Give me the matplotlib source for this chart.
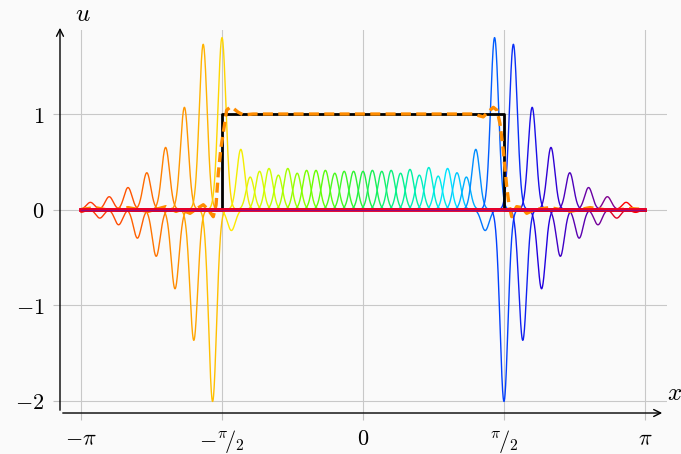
import numpy as np
import matplotlib.pyplot as plt
from matplotlib.colors import LinearSegmentedColormap

plt.rcParams.update({
    "mathtext.fontset": "cm",
    "font.family": "serif",
    "font.serif": ["DejaVu Serif"],
})

# ── Data ────────────────────────────────────────────────────────────────────
# node index k -> position k*pi/30, coefficient (peak height of each coloured curve)
node_k = list(range(-30, 30))
node_coef = [
    -0.03, 0.075, -0.09, 0.134, -0.16, 0.23, -0.30, 0.385, -0.49, 0.65,     # k=-30..-21
    -0.83, 1.07, -1.37, 1.73, -2.01, 1.80, -0.22, 0.63, 0.34, 0.40,         # k=-20..-11
    0.43, 0.36, 0.43, 0.38, 0.41, 0.41, 0.41, 0.38, 0.40, 0.40,             # k=-10..-1
    0.40, 0.41, 0.40, 0.41, 0.38, 0.42, 0.36, 0.44, 0.35, 0.43,             # k=0..9
    0.385, 0.34, 0.63, -0.22, 1.80, -2.01, 1.73, -1.37, 1.07, -0.83,        # k=10..19
    0.65, -0.49, 0.385, -0.30, 0.23, -0.16, 0.134, -0.09, 0.075, -0.03,     # k=20..29
]

# reconstruction (orange dashed)
recon_x = [-3.142, -2.986, -2.819, -2.618, -2.395, -2.195, -2.083, -2.028, -1.927,
           -1.849, -1.779, -1.727, -1.668, -1.637, -1.612, -1.582, -1.557, -1.519,
           -1.482, -1.445, -1.393, -1.333, -1.225, -1.114, 0.0, 1.114, 1.225, 1.340,
           1.393, 1.452, 1.493, 1.526, 1.563, 1.601, 1.627, 1.657, 1.682, 1.712,
           1.771, 1.824, 1.916, 2.083, 2.306, 2.529, 2.752, 2.975, 3.142]
recon_y = [0.00, 0.02, -0.01, 0.02, -0.02, 0.03, -0.02, 0.00, -0.04,
           0.01, 0.05, 0.00, -0.075, 0.05, 0.38, 0.65, 0.80, 1.04,
           1.07, 1.06, 1.02, 0.99, 1.00, 1.00, 1.00, 1.00, 1.00, 0.97,
           1.02, 1.07, 1.04, 0.90, 0.62, 0.24, 0.05, -0.075, -0.02, 0.03,
           0.02, -0.04, 0.00, 0.02, -0.02, 0.02, -0.01, 0.01, 0.00]

# exact step
step_x = [-np.pi, -np.pi / 2, -np.pi / 2, np.pi / 2, np.pi / 2, np.pi]
step_y = [0, 0, 1, 1, 0, 0]

x_ticks = [-np.pi, -np.pi / 2, 0, np.pi / 2, np.pi]
x_ticklabels = [r"$-\pi$", r"$-{}^{\pi}\!/_{2}$", r"$0$", r"${}^{\pi}\!/_{2}$", r"$\pi$"]
y_ticks = [-2, -1, 0, 1]
y_ticklabels = [r"$-2$", r"$-1$", r"$0$", r"$1$"]

# ── Style ───────────────────────────────────────────────────────────────────
h = np.pi / 30
sigma = 0.42 * h
cmap = LinearSegmentedColormap.from_list("rb", [
    (0.000, "#ff3010"), (0.085, "#ff5500"), (0.170, "#ff8c00"), (0.237, "#ffc000"),
    (0.270, "#ffe800"), (0.339, "#ccff00"), (0.424, "#66ff00"), (0.508, "#20f040"),
    (0.593, "#00f0a0"), (0.660, "#00e8ff"), (0.712, "#0090ff"), (0.763, "#0040ff"),
    (0.830, "#2000e0"), (0.898, "#5a00b0"), (0.949, "#800090"), (0.975, "#ff0000"),
    (1.000, "#ff0000"),
])

fig = plt.figure(figsize=(6.81, 4.54), dpi=100, facecolor="#fafafa")
ax = fig.add_axes([0.0881, 0.0903, 0.8913, 0.8436], facecolor="#fafafa")

xs = np.linspace(-np.pi, np.pi, 3000)
for i, (k, c) in enumerate(zip(node_k, node_coef)):
    xk = k * h
    col = cmap(i / (len(node_k) - 1))
    ax.plot(xs, c * np.exp(-0.5 * ((xs - xk) / sigma) ** 2), color=col, lw=1.0, zorder=2)

ax.plot(step_x, step_y, color="black", lw=2.0, zorder=3)
ax.plot(recon_x, recon_y, color="#ff8c00", lw=2.4, ls=(0, (3, 1.6)), zorder=4)
ax.plot([-np.pi, np.pi], [0, 0], color="#e8002a", lw=2.8, zorder=5)
ax.plot([-np.pi, np.pi], [0, 0], color="#6a10a0", lw=0.5, zorder=6)

ax.set_xlim(-3.3757, 3.3868)
ax.set_ylim(-2.1309, 1.8796)
ax.set_xticks(x_ticks)
ax.set_xticklabels(x_ticklabels, fontsize=16)
ax.set_yticks(y_ticks)
ax.set_yticklabels(y_ticklabels, fontsize=16)
ax.grid(True, color="#c8c8c8", lw=0.8, zorder=0)
ax.tick_params(axis="both", color="#c0c0c0", length=5, width=0.8, pad=6)
for s in ax.spines.values():
    s.set_visible(False)

ax.annotate("", xy=(0.9967, 0), xytext=(0, 0), xycoords="axes fraction",
            arrowprops=dict(arrowstyle="->,head_length=0.5,head_width=0.25", lw=1.0, color="black"),
            annotation_clip=False)
ax.annotate("", xy=(0, 1.013), xytext=(0, 0), xycoords="axes fraction",
            arrowprops=dict(arrowstyle="->,head_length=0.5,head_width=0.25", lw=1.0, color="black"),
            annotation_clip=False)
ax.text(0.025, 1.04, r"$u$", transform=ax.transAxes, fontsize=18, va="center", ha="left")
ax.text(1.0, 0.05, r"$x$", transform=ax.transAxes, fontsize=18, va="center", ha="left")

fig.savefig("out.png", dpi=100, facecolor=fig.get_facecolor())
